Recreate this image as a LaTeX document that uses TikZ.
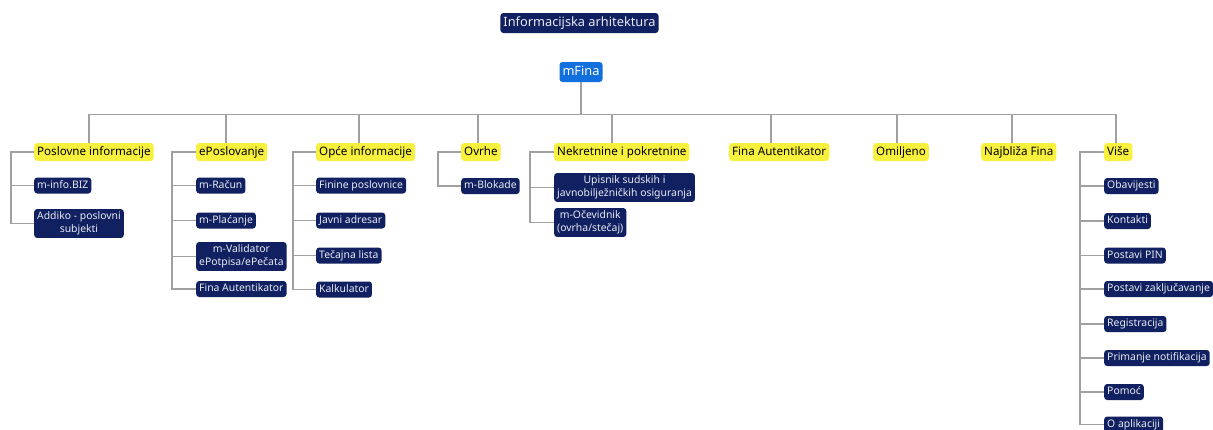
\documentclass[tikz,border=0pt]{standalone}
\usepackage{fontspec}
\setmainfont{Noto Sans}
\definecolor{navy}{RGB}{16,32,96}
\definecolor{fblue}{RGB}{18,112,222}
\definecolor{cyel}{RGB}{247,240,60}
\definecolor{lgray}{RGB}{160,160,160}
\definecolor{ltext}{RGB}{232,234,242}
\tikzset{
  base/.style={rounded corners=3pt, inner xsep=3pt, align=center},
  topbox/.style={base, font=\fontsize{12.8}{14}\selectfont, text height=9.8pt, text depth=3.2pt, inner ysep=3.5pt},
  cat/.style={base, fill=cyel, text=black, anchor=west, font=\fontsize{11.6}{13}\selectfont, text height=9pt, text depth=3pt, inner ysep=3pt},
  leafbase/.style={base, fill=navy, text=ltext, anchor=west, font=\fontsize{10.4}{12.5}\selectfont},
  leaf/.style={leafbase, text height=8pt, text depth=2.5pt, inner ysep=2.75pt},
  leaftwo/.style={leafbase, inner ysep=3pt},
  conn/.style={draw=lgray, line width=1.1pt},
}
\begin{document}
\begin{tikzpicture}[x=1pt,y=-1pt]
\useasboundingbox (0,0) rectangle (1213,429);
\clip (0,0) rectangle (1213,429);
% top
\node[topbox, fill=navy, text=ltext] (title) at (579.5,23) {Informacijska arhitektura};
\node[topbox, fill=fblue, text=white] (root) at (581,72) {mFina};
% categories
\node[cat] (c1) at (34,152) {Poslovne informacije};
\node[cat] (c2) at (196,152) {ePoslovanje};
\node[cat] (c3) at (316,152) {Opće informacije};
\node[cat] (c4) at (461,152) {Ovrhe};
\node[cat] (c5) at (554,152) {Nekretnine i pokretnine};
\node[cat] (c6) at (729,152) {Fina Autentikator};
\node[cat] (c7) at (873,152) {Omiljeno};
\node[cat] (c8) at (981,152) {Najbliža Fina};
\node[cat] (c9) at (1104,152) {Više};
% bus connectors
\draw[conn] (root.south) -- ++(0,32) -| ([xshift=55pt]c1.north west);
\draw[conn] (root.south) -- ++(0,32) -| ([xshift=30pt]c2.north west);
\draw[conn] (root.south) -- ++(0,32) -| ([xshift=43pt]c3.north west);
\draw[conn] (root.south) -- ++(0,32) -| ([xshift=17pt]c4.north west);
\draw[conn] (root.south) -- ++(0,32) -| ([xshift=58pt]c5.north west);
\draw[conn] (root.south) -- ++(0,32) -| ([xshift=42pt]c6.north west);
\draw[conn] (root.south) -- ++(0,32) -| ([xshift=24pt]c7.north west);
\draw[conn] (root.south) -- ++(0,32) -| ([xshift=31pt]c8.north west);
\draw[conn] (root.south) -- ++(0,32) -| ([xshift=12pt]c9.north west);
% Poslovne informacije
\node[leaf] (a1) at (34,185.5) {m-info.BIZ};
\node[leaftwo] (a2) at (34,223.5) {Addiko - poslovni\\subjekti};
\draw[conn] (c1.west) -- ++(-23,0) |- (a2.west);
\draw[conn] (a1.west) -- ++(-23,0);
% ePoslovanje
\node[leaf] (b1) at (196,185.5) {m-Račun};
\node[leaf] (b2) at (196,220.5) {m-Plaćanje};
\node[leaftwo] (b3) at (196,256.5) {m-Validator\\ePotpisa/ePečata};
\node[leaf] (b4) at (196,289) {Fina Autentikator};
\draw[conn] (c2.west) -- ++(-24,0) |- (b4.west);
\foreach \n in {b1,b2,b3} \draw[conn] (\n.west) -- ++(-24,0);
% Opće informacije
\node[leaf] (d1) at (316,185.5) {Finine poslovnice};
\node[leaf] (d2) at (316,220.5) {Javni adresar};
\node[leaf] (d3) at (316,255.5) {Tečajna lista};
\node[leaf] (d4) at (316,289.5) {Kalkulator};
\draw[conn] (c3.west) -- ++(-23,0) |- (d4.west);
\foreach \n in {d1,d2,d3} \draw[conn] (\n.west) -- ++(-23,0);
% Ovrhe
\node[leaf] (e1) at (461,186) {m-Blokade};
\draw[conn] (c4.west) -- ++(-23,0) |- (e1.west);
% Nekretnine
\node[leaftwo] (f1) at (554,187.5) {Upisnik sudskih i\\javnobilježničkih osiguranja};
\node[leaftwo] (f2) at (554,222.5) {m-Očevidnik\\(ovrha/stečaj)};
\draw[conn] (c5.west) -- ++(-24,0) |- (f2.west);
\draw[conn] (f1.west) -- ++(-24,0);
% Više
\node[leaf] (g1) at (1104,186) {Obavijesti};
\node[leaf] (g2) at (1104,221) {Kontakti};
\node[leaf] (g3) at (1104,255.5) {Postavi PIN};
\node[leaf] (g4) at (1104,289) {Postavi zaključavanje};
\node[leaf] (g5) at (1104,324) {Registracija};
\node[leaf] (g6) at (1104,358) {Primanje notifikacija};
\node[leaf] (g7) at (1104,392) {Pomoć};
\node[leaf] (g8) at (1104,424.5) {O aplikaciji};
\draw[conn] (c9.west) -- ++(-24,0) |- (g8.west);
\foreach \n in {g1,g2,g3,g4,g5,g6,g7} \draw[conn] (\n.west) -- ++(-24,0);
\end{tikzpicture}
\end{document}
